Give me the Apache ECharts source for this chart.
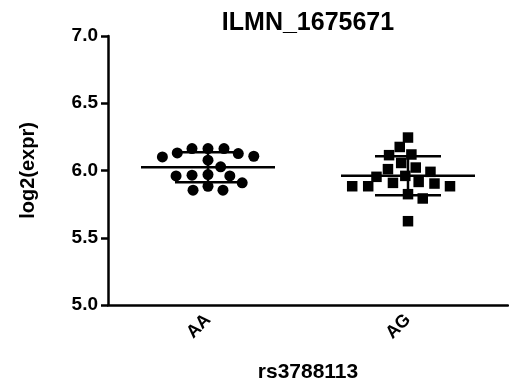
<!DOCTYPE html>
<html>
<head>
<meta charset="utf-8">
<title>ILMN_1675671</title>
<script src="https://cdn.jsdelivr.net/npm/echarts@6/dist/echarts.min.js"></script>
<style>
  html, body { margin: 0; padding: 0; background: #fff; }
  #chart { width: 509px; height: 385px; }
</style>
</head>
<body>
<div id="chart"></div>
<script>
// Genotype groups and per-sample expression (log2)
const categories = ['AA', 'AG'];
const aaValues = [6.131, 6.106, 6.163, 6.077, 6.163, 6.163, 6.101, 6.126, 6.027,
                  5.960, 5.965, 5.960, 5.970, 5.883, 5.854, 5.854, 5.908];
const agValues = [6.245, 6.175, 6.114, 6.119, 6.056, 6.010, 6.022, 5.990, 5.960, 5.953,
                  5.903, 5.883, 5.915, 5.883, 5.883, 5.908, 5.824, 5.792, 5.623];
const yTicks = [5.0, 5.5, 6.0, 6.5, 7.0];

const groups = [aaValues, agValues];
const symbols = ['circle', 'rect'];

const font = 'Liberation Sans, Arial, Helvetica, sans-serif';
const grid = { left: 108, right: 1, top: 36, bottom: 80, containLabel: false, outerBoundsMode: 'none' };
const W = 509, H = 385;
const xMin = -0.5, xMax = 1.5;
const yMin = yTicks[0], yMax = yTicks[yTicks.length - 1];
const pxPerX = (W - grid.left - grid.right) / (xMax - xMin);
const pxPerY = (H - grid.top - grid.bottom) / (yMax - yMin);
const markerSize = 11;
// horizontal / vertical clearance between neighbouring dots (px)
const gapX = 16, gapY = 11;

// Mean and sample standard deviation of a group
function stats(vals) {
  const n = vals.length;
  const mean = vals.reduce((a, b) => a + b, 0) / n;
  const sd = Math.sqrt(vals.reduce((a, v) => a + (v - mean) * (v - mean), 0) / (n - 1));
  return { mean, sd };
}

// Beeswarm: each dot goes as close to the group centre as it can
// without entering the elliptical clearance of dots already placed
function swarm(vals) {
  const placed = [];
  const offsets = new Array(vals.length);
  const order = vals.map((v, i) => i).sort((a, b) => vals[b] - vals[a]);
  const clear = (x, y) => placed.every(p => ((p.x - x) / gapX) ** 2 + ((p.y - y) / gapY) ** 2 >= 1 - 1e-6);
  let side = -1;
  for (const i of order) {
    const y = vals[i] * pxPerY;
    const cands = [0];
    for (const p of placed) {
      const t = 1 - ((p.y - y) / gapY) ** 2;
      if (t > 0) {
        const dx = gapX * Math.sqrt(t);
        cands.push(p.x - dx, p.x + dx);
      }
    }
    // nearest free spot; equal distances alternate between left and right
    cands.sort((a, b) => (Math.abs(a) - Math.abs(b)) || side * (b - a));
    const x = cands.find(c => clear(c, y));
    if (x !== 0) side = -Math.sign(x);
    placed.push({ x, y });
    offsets[i] = x;
  }
  return offsets;
}

const summary = groups.map(stats);

const pointSeries = groups.map((vals, gi) => {
  const offs = swarm(vals);
  return {
    type: 'scatter',
    xAxisIndex: 1,
    symbol: symbols[gi],
    symbolSize: gi === 0 ? markerSize : markerSize - 0.5,
    itemStyle: { color: '#000', opacity: 1 },
    data: vals.map((v, i) => [gi + offs[i] / pxPerX, v]),
    z: 2
  };
});

const meanHalf = 0.335, capHalf = 0.165;

const chart = echarts.init(document.getElementById('chart'), null, { renderer: 'canvas' });
chart.setOption({
  animation: false,
  backgroundColor: '#fff',
  title: {
    text: 'ILMN_1675671',
    left: 303, top: 6, textAlign: 'center',
    textStyle: { fontFamily: font, fontWeight: 'bold', fontSize: 25, color: '#000' }
  },
  grid: grid,
  xAxis: [{
    type: 'category',
    data: categories,
    name: 'rs3788113',
    nameLocation: 'middle',
    nameGap: 57,
    nameTextStyle: { fontFamily: font, fontWeight: 'bold', fontSize: 21, color: '#000' },
    axisLine: { lineStyle: { color: '#000', width: 2.5 } },
    axisTick: { alignWithLabel: true, length: 7, lineStyle: { color: '#000', width: 2.5 } },
    axisLabel: { rotate: 45, margin: 12, fontFamily: font, fontWeight: 'bold', fontSize: 18, color: '#000' },
    splitLine: { show: false }
  }, {
    type: 'value', min: xMin, max: xMax, show: false
  }],
  yAxis: {
    type: 'value',
    min: yMin, max: yMax, interval: 0.5,
    name: 'log2(expr)',
    nameLocation: 'middle',
    nameGap: 70,
    nameTextStyle: { fontFamily: font, fontWeight: 'bold', fontSize: 20, color: '#000' },
    axisLine: { show: true, onZero: false, lineStyle: { color: '#000', width: 2.5 } },
    axisTick: { show: true, length: 7, lineStyle: { color: '#000', width: 2.5 } },
    axisLabel: {
      margin: 10, fontFamily: font, fontWeight: 'bold', fontSize: 19, color: '#000',
      formatter: v => v.toFixed(1)
    },
    splitLine: { show: false }
  },
  series: [
    ...pointSeries,
    {
      type: 'custom',
      xAxisIndex: 1,
      z: 3,
      data: summary.map((s, i) => [i, s.mean, s.sd]),
      renderItem(params, api) {
        const c = api.value(0), m = api.value(1), sd = api.value(2);
        const style = { stroke: '#000', lineWidth: 2.5 };
        const seg = (a, b) => ({ type: 'line', shape: { x1: a[0], y1: a[1], x2: b[0], y2: b[1] }, style });
        return {
          type: 'group',
          children: [
            seg(api.coord([c - meanHalf, m]), api.coord([c + meanHalf, m])),
            seg(api.coord([c, m - sd]), api.coord([c, m + sd])),
            seg(api.coord([c - capHalf, m + sd]), api.coord([c + capHalf, m + sd])),
            seg(api.coord([c - capHalf, m - sd]), api.coord([c + capHalf, m - sd]))
          ]
        };
      }
    }
  ]
});
</script>
</body>
</html>
